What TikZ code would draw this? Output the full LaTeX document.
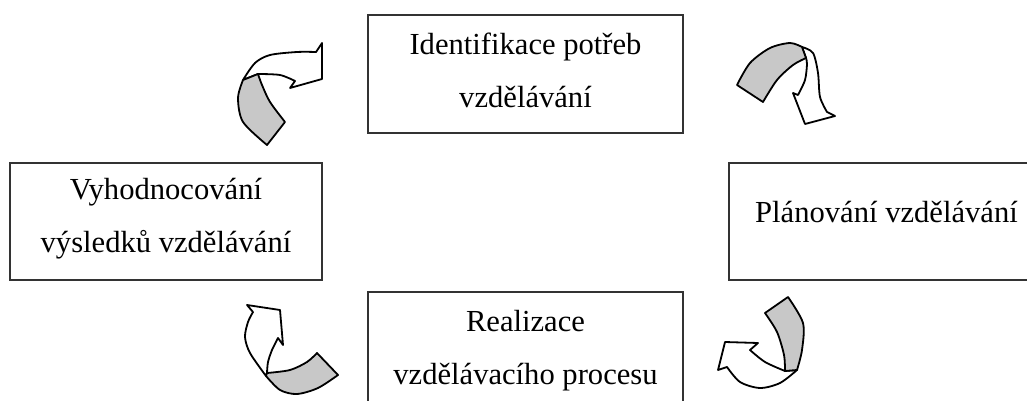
\documentclass[tikz,border=0pt]{standalone}
\usepackage{fontspec}
\setmainfont{Liberation Serif}
\usepackage{tikz}
\definecolor{backgray}{RGB}{200,200,200}

\begin{document}
\begin{tikzpicture}[x=1pt,y=-1pt,
stage/.style={draw=black!80,line width=2.2pt,minimum width=315pt,minimum height=118pt,inner sep=0pt,align=center,font=\fontsize{30.6}{53}\selectfont},
front/.style={draw,line width=1.8pt,fill=white,line join=round},
back/.style={front,fill=backgray}]
\useasboundingbox (0,0) rectangle (1027,401);
\clip (0,0) rectangle (1027,401);
\node[stage,text height=68pt] (ident) at (525.5,74) {Identifikace potřeb\\vzdělávání};
\node[stage,text height=3pt,minimum height=117pt] (plan) at (886.5,221.5) {Plánování vzdělávání};
\node[stage,text height=74pt] (real) at (525.5,351) {Realizace\\vzdělávacího procesu};
\node[stage,text height=68pt,minimum width=312pt,minimum height=117pt] (eval) at (166,221.5) {Vyhodnocování\\výsledků vzdělávání};
% top left
\draw[front] plot[smooth] coordinates {(243,80) (255,63) (270,55) (297,52) (316,52)} -- (322,43) -- (322,79) -- (290,88) -- (295,81) -- plot[smooth] coordinates {(295,81) (280,75) (258,74)} -- cycle;
\draw[back] plot[smooth] coordinates {(243,80) (238,98) (243,122) (267,145)} -- (285,122) -- plot[smooth] coordinates {(285,122) (270,102) (262,85) (258,74)} -- cycle;
% top right
\draw[front] plot[smooth] coordinates {(802,47) (813,53) (818,73) (820,97) (827,112)} -- (835,116) -- (805,124) -- (793,93) -- (798,95) -- plot[smooth] coordinates {(798,95) (805,80) (807,64) (806,58)} -- cycle;
\draw[back] plot[smooth] coordinates {(737,85) (750,63) (770,48) (790,43) (802,47)} -- (806,58) -- plot[smooth] coordinates {(806,58) (793,65) (777,80) (763,102)} -- cycle;
% bottom right
\draw[front] plot[smooth] coordinates {(797,370) (780,383) (760,388) (740,382) (727,367)} -- (718,370) -- (725,342) -- (758,343) -- (750,350) -- plot[smooth] coordinates {(750,350) (765,362) (785,371)} -- cycle;
\draw[back] (765,313) -- plot[smooth] coordinates {(788,297) (803,323) (802,350) (797,370)} -- (785,371) -- plot[smooth] coordinates {(785,371) (784,355) (777,332) (765,313)} -- cycle;
% bottom left
\draw[front] plot[smooth] coordinates {(266,376) (250,353) (245,337) (248,322) (253,312)} -- (247,305) -- (280,310) -- (283,345) -- (278,338) -- plot[smooth] coordinates {(278,338) (272,350) (268,362) (267,373)} -- cycle;
\draw[back] plot[smooth] coordinates {(267,373) (290,370) (307,362) (317,353)} -- (338,375) -- plot[smooth] coordinates {(338,375) (318,388) (297,394) (280,390) (266,376)} -- cycle;
\end{tikzpicture}
\end{document}
